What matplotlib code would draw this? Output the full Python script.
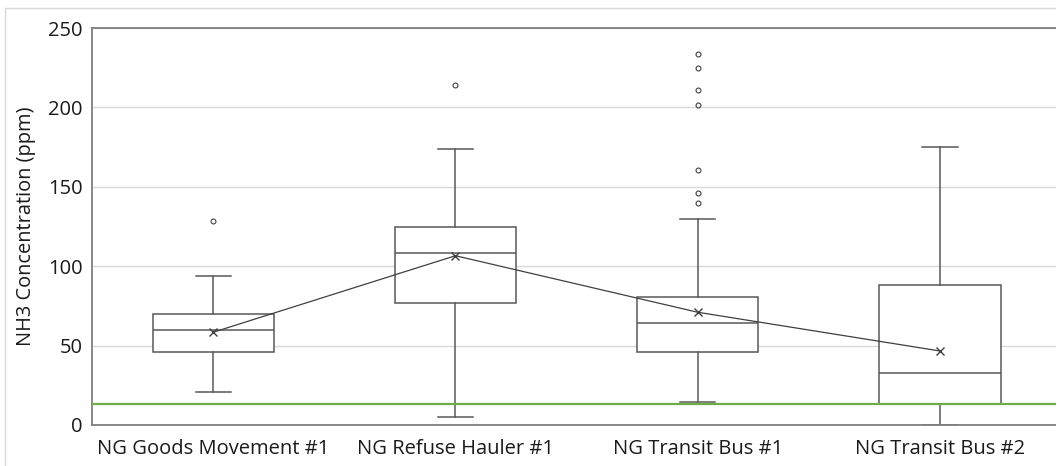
import matplotlib.pyplot as plt
from matplotlib.patches import Rectangle

# Werte (ppm)
kategorien = ['NG Goods Movement #1', 'NG Refuse Hauler #1', 'NG Transit Bus #1', 'NG Transit Bus #2']
whisker_unten = [20.5, 4.8, 14.3, 0.0]
q1 = [46.0, 76.8, 46.2, 13.5]
median = [60.0, 108.0, 64.2, 33.0]
q3 = [70.0, 125.0, 80.6, 88.0]
whisker_oben = [94.0, 174.0, 129.5, 175.0]
mittelwert = [58.4, 106.6, 71.0, 46.6]
ausreisser = [
    [128.5],
    [214.0],
    [233.8, 224.8, 210.8, 201.5, 160.8, 146.0, 140.0],
    [],
]
grenzwert = 13.2

plt.rcParams['font.family'] = ['Open Sans', 'DejaVu Sans']

fig = plt.figure(figsize=(10.56, 4.66), dpi=100)
ax = fig.add_axes([92 / 1056, 41 / 466, 964 / 1056, 397 / 466])

# Rahmen des Diagrammbereichs
fig.patches.append(Rectangle((5 / 1056, -0.1), 1.2, (466 - 8) / 466 + 0.1,
                             transform=fig.transFigure, fill=False,
                             edgecolor='#d9d9d9', linewidth=1.0, zorder=0))

stats = []
for i in range(len(kategorien)):
    stats.append({
        'whislo': whisker_unten[i], 'q1': q1[i], 'med': median[i],
        'q3': q3[i], 'whishi': whisker_oben[i], 'mean': mittelwert[i],
        'fliers': ausreisser[i], 'label': kategorien[i],
    })

pos = [1, 2, 3, 4]
farbe = '#595959'
ax.bxp(stats, positions=pos, widths=0.5, capwidths=0.145, showmeans=False,
       patch_artist=True,
       boxprops=dict(facecolor='white', edgecolor=farbe, linewidth=1.1),
       medianprops=dict(color=farbe, linewidth=1.1),
       whiskerprops=dict(color=farbe, linewidth=1.1),
       capprops=dict(color=farbe, linewidth=1.1),
       flierprops=dict(marker='o', markersize=3.5, markerfacecolor='none',
                       markeredgecolor='#404040', markeredgewidth=0.8),
       zorder=2)

# Mittelwerte verbunden
ax.plot(pos, mittelwert, color='#404040', linewidth=0.9, marker='x',
        markersize=6, markeredgewidth=1.0, zorder=4)

# Grenzwert (gruene Linie)
ax.axhline(grenzwert, color='#70ad47', linewidth=1.6, zorder=5)

ax.set_ylim(0, 250)
ax.set_xlim(0.5, 0.5 + 964 / 242.3)
ax.set_yticks([0, 50, 100, 150, 200, 250])
ax.yaxis.grid(True, color='#d9d9d9', linewidth=1.0)
ax.set_axisbelow(True)

ax.spines['right'].set_visible(False)
for s in ['left', 'bottom', 'top']:
    ax.spines[s].set_color('#7f7f7f')
    ax.spines[s].set_linewidth(1.3)

ax.tick_params(axis='both', length=0, labelsize=14.5, colors='#1a1a1a')
ax.tick_params(axis='x', pad=10)
ax.tick_params(axis='y', pad=6.5)
ax.set_xticks(pos)
ax.set_xticklabels(kategorien)
ax.set_ylabel('NH3 Concentration (ppm)', fontsize=14.4, labelpad=9, color='#1a1a1a')

fig.savefig('out.png', dpi=100)
